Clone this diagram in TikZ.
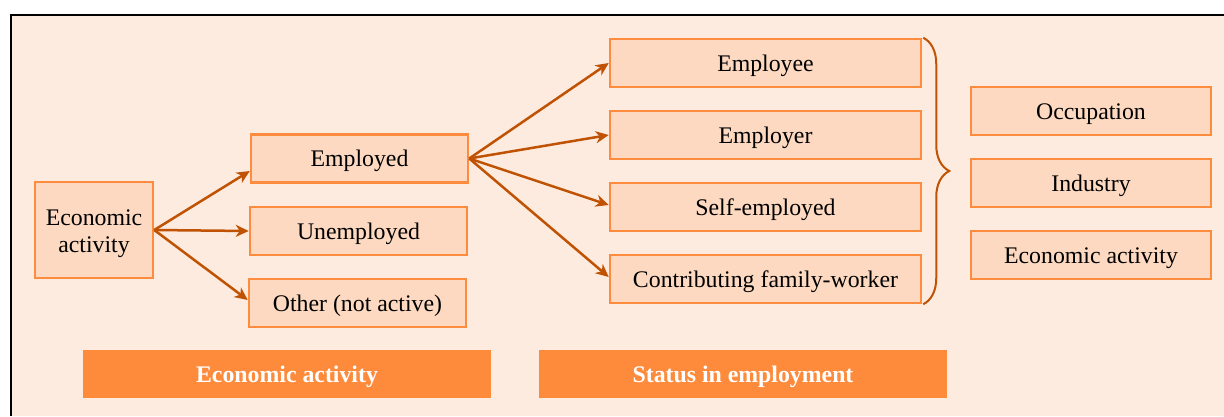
\documentclass[tikz,border=0pt]{standalone}
\usepackage{fontspec}
\setmainfont{Liberation Serif}
\usetikzlibrary{arrows.meta,decorations.pathreplacing}
\definecolor{pagebg}{RGB}{253,235,224}
\definecolor{boxfill}{RGB}{252,217,192}
\definecolor{boxline}{RGB}{253,140,62}
\definecolor{bannerfill}{RGB}{254,139,60}
\definecolor{linkcol}{RGB}{192,82,4}
\tikzset{
  x=1pt, y=-1pt,
  cat/.style={draw=boxline, fill=boxfill, line width=2.5pt, inner sep=0pt,
    minimum height=48pt, text height=16pt, text depth=0pt,
    font=\fontsize{23.8}{27}\selectfont, align=center},
  banner/.style={fill=bannerfill, inner sep=0pt, minimum width=408pt,
    minimum height=48pt, text height=16pt, text depth=0pt, text=white,
    font=\fontsize{23.8}{27}\selectfont\bfseries},
  link/.style={draw=linkcol, line width=2.5pt,
    -{Stealth[length=13pt, width=12pt, inset=4pt]}},
}
\begin{document}
\begin{tikzpicture}
\useasboundingbox (0,0) rectangle (1224,416);
% background panel with its frame on the left and top
\fill[pagebg] (11,15) rectangle (1224,416);
\draw[black, line width=2pt] (11,416) -- (11,15) -- (1224,15);

% first level
\node[cat, minimum width=118pt, minimum height=96pt, text height=44pt]
  (ea) at (94,230) {Economic\\activity};

% second level
\node[cat, minimum width=217pt] (emp) at (359.5,158.5) {Employed};
\node[cat, minimum width=217pt] (unemp) at (358.5,231) {Unemployed};
\node[cat, minimum width=217pt] (other) at (357.5,303) {Other (not active)};

% status in employment
\node[cat, minimum width=311pt] (ee) at (765.5,63) {Employee};
\node[cat, minimum width=311pt] (er) at (765.5,135) {Employer};
\node[cat, minimum width=311pt] (se) at (765.5,207) {Self-employed};
\node[cat, minimum width=311pt] (cfw) at (765.5,279) {Contributing family-worker};

% further classifications
\node[cat, minimum width=240pt] (occ) at (1091,111) {Occupation};
\node[cat, minimum width=240pt] (ind) at (1091,183) {Industry};
\node[cat, minimum width=240pt] (eact) at (1091,255) {Economic activity};

% section labels
\node[banner] (b1) at (287,374) {Economic activity};
\node[banner] (b2) at (743,374) {Status in employment};

% connectors
\draw[link] (ea.east) -- ([yshift=-12.5pt]emp.west);
\draw[link] (ea.east) -- (unemp.west);
\draw[link] (ea.east) -- ([yshift=3pt]other.west);

\draw[link] (emp.east) -- (ee.west);
\draw[link] (emp.east) -- (er.west);
\draw[link] (emp.east) -- ([yshift=2pt]se.west);
\draw[link] (emp.east) -- ([yshift=2pt]cfw.west);

% brace grouping the status categories
\draw[linkcol, line width=2pt, decorate,
  decoration={brace, amplitude=26pt, aspect=0.5}]
  ([xshift=1pt]ee.north east) -- ([xshift=1pt]cfw.south east);
\end{tikzpicture}
\end{document}
